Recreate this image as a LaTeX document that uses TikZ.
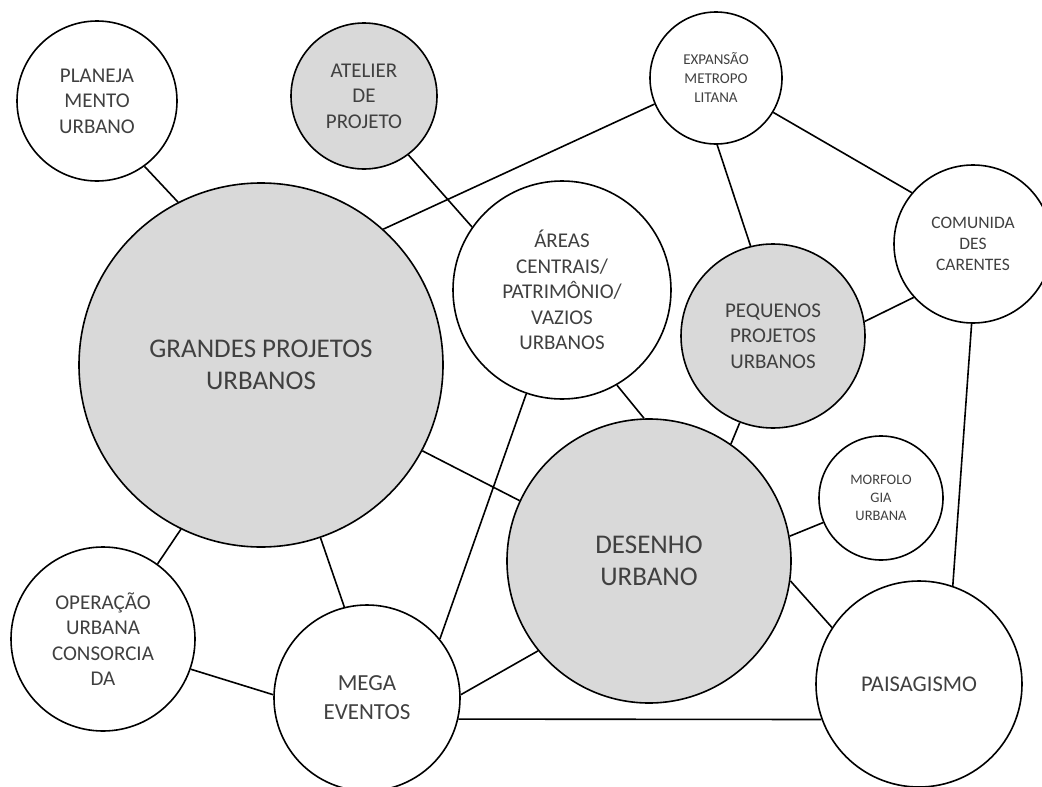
\documentclass[tikz,border=0pt]{standalone}
\usepackage{fontspec}
\setmainfont{Carlito}
\definecolor{txtgray}{RGB}{64,64,64}
\definecolor{fillgray}{RGB}{217,217,217}

\begin{document}
\begin{tikzpicture}[line width=1.6pt,
  bubble/.style = {draw, circle, inner sep=0pt, align=center, text=txtgray},
  bubblef/.style = {bubble, fill=fillgray},
  txt/.style 2 args = {font=\fontsize{#1}{#2}\selectfont}]

        \useasboundingbox (0,0) rectangle (1042pt,-787pt);

        \node[bubble, txt={21}{25.5}, minimum size=160pt, xshift=97pt, yshift=-101pt] (plan) {PLANEJA\\MENTO\\URBANO};
        \node[bubblef, txt={21}{25.5}, minimum size=146pt, xshift=364pt, yshift=-96pt] (atel) {ATELIER\\DE\\PROJETO};
        \node[bubble, txt={15}{19}, minimum size=132pt, xshift=716pt, yshift=-78pt] (expa) {EXPANSÃO\\METROPO\\LITANA};
        \node[bubble, txt={17.5}{21}, minimum size=158pt, xshift=973pt, yshift=-244pt] (comu) {COMUNIDA\\DES\\CARENTES};
        \node[bubblef, txt={27}{32.5}, minimum size=364pt, xshift=261pt, yshift=-365pt] (gpu) {GRANDES PROJETOS\\URBANOS};
        \node[bubble, txt={21}{25.5}, minimum size=218pt, xshift=562pt, yshift=-290pt] (area) {ÁREAS\\CENTRAIS/\\PATRIMÔNIO/\\VAZIOS\\URBANOS};
        \node[bubblef, txt={21}{25.5}, minimum size=184pt, xshift=773pt, yshift=-336pt] (ppu) {PEQUENOS\\PROJETOS\\URBANOS};
        \node[bubble, txt={14.5}{18}, minimum size=124pt, xshift=881pt, yshift=-498pt] (morf) {MORFOLO\\GIA\\URBANA};
        \node[bubblef, txt={27}{32.5}, minimum size=284pt, xshift=649pt, yshift=-561pt] (du) {DESENHO\\URBANO};
        \node[bubble, txt={21}{25.5}, minimum size=184pt, xshift=103pt, yshift=-639pt] (oper) {OPERAÇÃO\\URBANA\\CONSORCIA\\DA};
        \node[bubble, txt={23}{29}, minimum size=186pt, xshift=367pt, yshift=-698pt] (mega) {MEGA\\EVENTOS};
        \node[bubble, txt={22.5}{27}, minimum size=206pt, xshift=919pt, yshift=-684pt] (pais) {PAISAGISMO};

        \draw (plan.-54) -- (gpu.117);
        \draw (atel.-53) -- (area.145);
        \draw (gpu.48) -- (expa.203);
        \draw (expa.-89) -- (ppu.104);
        \draw (expa.-31) -- (comu.140);
        \draw (comu.222) -- (ppu.9);
        \draw (comu.-91) -- (pais.71);
        \draw (area.-60) -- (du.92);
        \draw (ppu.-111) -- (du.55);
        \draw (area.251) -- (mega.39);
        \draw (gpu.-28) -- (du.155);
        \draw (gpu.-116) -- (oper.54);
        \draw (gpu.-71) -- (mega.104);
        \draw (oper.-19) -- (mega.178);
        \draw (mega.2) -- (du.219);
        \draw (mega.-13) -- (pais.200);
        \draw (du.10) -- (morf.203);
        \draw (du.-8) -- (pais.147);

\end{tikzpicture}
\end{document}
